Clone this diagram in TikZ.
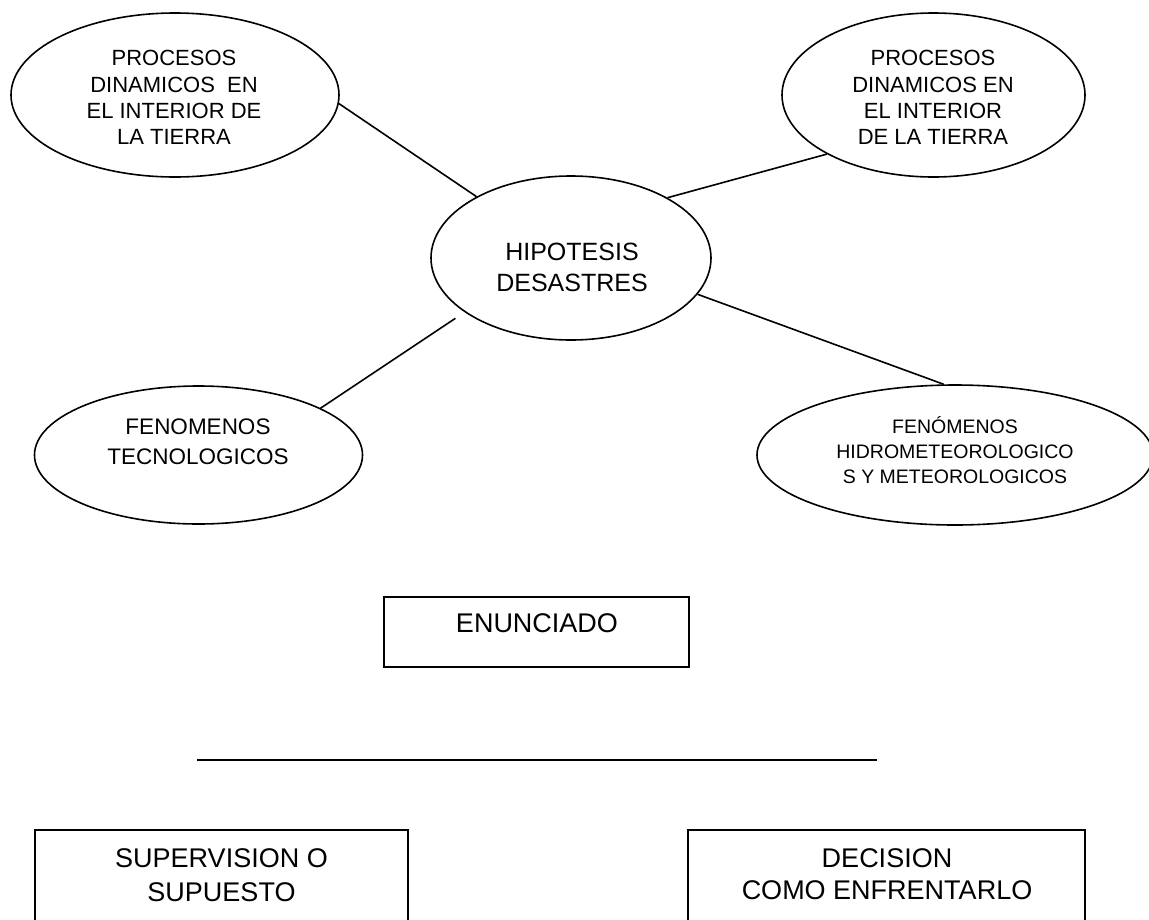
\documentclass[tikz,border=0pt]{standalone}
\usepackage{fontspec}
\setmainfont{Liberation Sans}
\usetikzlibrary{shapes.geometric}
\begin{document}
\begin{tikzpicture}[x=1pt,y=-1pt,line width=1.6pt,
  oval/.style={draw, ellipse, inner sep=0pt},
  rect/.style={draw, rectangle, inner sep=0pt},
  txt/.style={align=center, inner sep=0pt},
  link/.style={draw, line width=1.6pt}]
\useasboundingbox (0,0) rectangle (1149,919);
\clip (0,0) rectangle (1149,919);

% ellipses
\node[oval, minimum width=328pt, minimum height=164pt] (e1) at (175,95) {};
\node[oval, minimum width=303pt, minimum height=164pt] (e2) at (933.5,95) {};
\node[oval, minimum width=280pt, minimum height=164pt] (ec) at (571,258) {};
\node[oval, minimum width=328pt, minimum height=138pt] (e3) at (198.5,455) {};
\node[oval, minimum width=396pt, minimum height=140pt] (e4) at (955,455) {};

% ellipse texts
\node[txt, font=\fontsize{22}{26.3}\selectfont] (t1) at (174,97.5)
  {PROCESOS\\DINAMICOS\ \ EN\\EL INTERIOR DE\\LA TIERRA};
\node[txt, font=\fontsize{22}{26.3}\selectfont] (t2) at (933,97.5)
  {PROCESOS\\DINAMICOS EN\\EL INTERIOR\\DE LA TIERRA};
\node[txt, font=\fontsize{25}{31}\selectfont] (tc) at (572,267.5)
  {HIPOTESIS\\DESASTRES};
\node[txt, font=\fontsize{22.5}{30}\selectfont] (t3) at (198,442)
  {FENOMENOS\\TECNOLOGICOS};
\node[txt, font=\fontsize{19.5}{25}\selectfont] (t4) at (955,450)
  {FENÓMENOS\\HIDROMETEOROLOGICO\\S Y METEOROLOGICOS};

% connectors
\draw[link] (e1.-3.5) -- (ec.147.5);
\draw[link] (e2.-151.9) -- (ec.32.5);
\draw[link, shorten <=11pt] (ec.-153) -- (e3.21.6);
\draw[link] (ec.-16.7) -- (e4.99.7);

% enunciado box
\node[rect, minimum width=305pt, minimum height=70pt] (b1) at (536.5,632) {};
\node[txt, font=\fontsize{27}{33}\selectfont] (tb1) at (537,623) {ENUNCIADO};

% horizontal line
\coordinate (h1) at (197,760);
\coordinate (h2) at (877,760);
\draw[link] (h1) -- (h2);

% bottom boxes
\node[rect, minimum width=373pt, minimum height=140pt] (b2) at (221.5,900) {};
\node[txt, font=\fontsize{27}{34}\selectfont] (tb2) at (221.5,875) {SUPERVISION O\\SUPUESTO};
\node[rect, minimum width=397pt, minimum height=140pt] (b3) at (886.5,900) {};
\node[txt, font=\fontsize{27}{32}\selectfont] (tb3) at (887,874) {DECISION\\COMO ENFRENTARLO};
\end{tikzpicture}
\end{document}
